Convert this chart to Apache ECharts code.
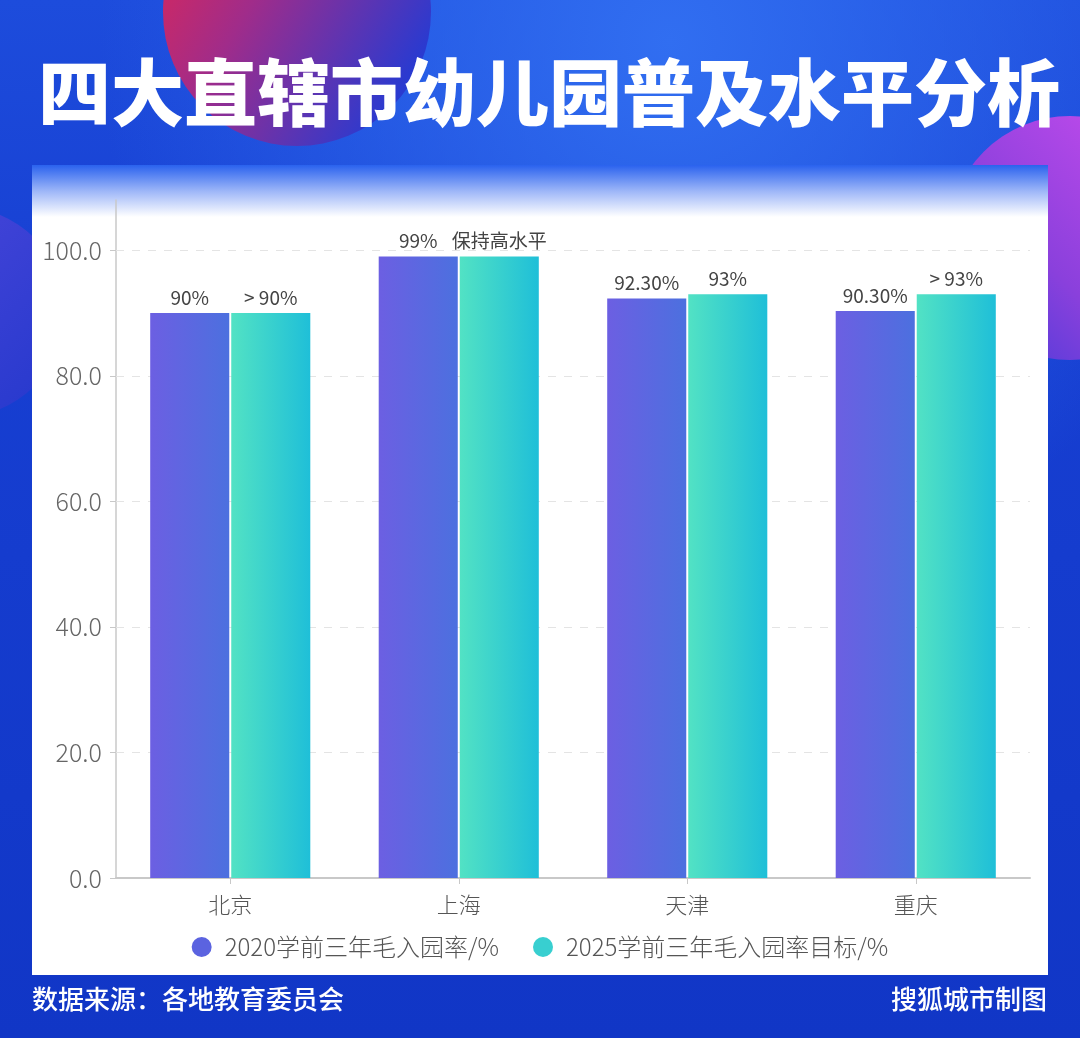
<!DOCTYPE html>
<html><head><meta charset="utf-8">
<script src="https://cdn.jsdelivr.net/npm/echarts@6/dist/echarts.min.js"></script>
<style>html,body{margin:0;padding:0;}#c{width:1080px;height:1038px;}</style>
</head><body><div id="c"></div>
<script>
const title = '四大直辖市幼儿园普及水平分析';
const categories = ['北京', '上海', '天津', '重庆'];
const seriesNames = ['2020学前三年毛入园率/%', '2025学前三年毛入园率目标/%'];
const values2020 = [90, 99, 92.3, 90.3];
const values2025 = [90, 99, 93, 93];
const labels2020 = ['90%', '99%', '92.30%', '90.30%'];
const labels2025 = ['> 90%', '保持高水平', '93%', '> 93%'];
const yTicks = [0, 20, 40, 60, 80, 100];
const sourceText = '数据来源：各地教育委员会';
const creditText = '搜狐城市制图';

const chart = echarts.init(document.getElementById('c'), null, {renderer: 'canvas'});
const lg = (c0, c1) => new echarts.graphic.LinearGradient(0, 0, 1, 0, [{offset: 0, color: c0}, {offset: 1, color: c1}]);
const purple = lg('#6c5fe2', '#4c70df');
const teal = lg('#52e2c4', '#1fbfd8');
const FONT = '"Noto Sans CJK SC", "Noto Sans", sans-serif';

const option = {
  backgroundColor: new echarts.graphic.LinearGradient(0, 0, 0, 1, [
    {offset: 0, color: '#1d4cdc'}, {offset: 0.3, color: '#173fd2'}, {offset: 1, color: '#1136c6'}
  ]),
  textStyle: {fontFamily: FONT},
  graphic: [
    {type: 'rect', z: -20, shape: {x: 0, y: 0, width: 1080, height: 1038}, style: {fill: new echarts.graphic.RadialGradient(0.62, 0.04, 0.55, [{offset: 0, color: 'rgba(50,112,242,0.95)'}, {offset: 1, color: 'rgba(50,112,242,0)'}])}},
    {type: 'circle', z: -15, shape: {cx: 297, cy: 12, r: 134}, style: {fill: new echarts.graphic.LinearGradient(0, 0, 1, 0.6, [{offset: 0, color: '#e8264e'}, {offset: 0.45, color: '#a02c8a'}, {offset: 1, color: '#2a3ad0'}])}},
    {type: 'circle', z: -15, shape: {cx: 1070, cy: 238, r: 122}, style: {fill: new echarts.graphic.LinearGradient(1, 0, 0, 1, [{offset: 0, color: '#d04ef0'}, {offset: 0.6, color: '#8a40dc'}, {offset: 1, color: '#3a3ad8'}])}},
    {type: 'circle', z: -15, shape: {cx: -40, cy: 312, r: 105}, style: {fill: new echarts.graphic.LinearGradient(0, 0, 1, 1, [{offset: 0, color: '#4e48dc'}, {offset: 1, color: '#2438cc'}])}},
    {type: 'rect', z: -10, shape: {x: 32, y: 165, width: 1016, height: 810}, style: {fill: '#ffffff'}},
    {type: 'rect', z: -9, shape: {x: 32, y: 165, width: 1016, height: 52}, style: {fill: new echarts.graphic.LinearGradient(0, 0, 0, 1, [{offset: 0, color: '#2a62ee'}, {offset: 0.5, color: '#9db6f8'}, {offset: 1, color: '#ffffff'}])}},
    {type: 'text', z: 50, left: 38, top: 56, style: {text: title, fill: '#ffffff', font: '900 73px "Noto Sans CJK SC"', shadowColor: '#16269a', shadowOffsetX: 4, shadowOffsetY: 5, shadowBlur: 0}},
    {type: 'text', z: 50, left: 32, top: 986, style: {text: sourceText, fill: '#ffffff', font: '500 26px "Noto Sans CJK SC"'}},
    {type: 'text', z: 50, right: 33, top: 986, style: {text: creditText, fill: '#ffffff', font: '500 26px "Noto Sans CJK SC"'}}
  ],
  grid: {left: 116, right: 50, top: 200, bottom: 160, containLabel: false},
  legend: {
    top: 930, left: 'center', itemWidth: 20, itemHeight: 20, itemGap: 34, icon: 'circle',
    textStyle: {fontSize: 24, color: '#555', fontFamily: FONT, fontWeight: 300, padding: [0, 0, 0, 8]},
    data: [{name: seriesNames[0], itemStyle: {color: '#5b63e0'}}, {name: seriesNames[1], itemStyle: {color: '#38cfd0'}}]
  },
  xAxis: {
    type: 'category', data: categories,
    axisLine: {lineStyle: {color: '#c8c8c8', width: 2}},
    axisTick: {show: true, alignWithLabel: true, length: 6, lineStyle: {color: '#c8c8c8'}},
    axisLabel: {fontSize: 22, color: '#555', margin: 16, fontWeight: 300}
  },
  yAxis: {
    type: 'value', min: 0, max: 108, interval: 20,
    axisLine: {show: true, lineStyle: {color: '#c8c8c8', width: 1.5}},
    axisTick: {show: true, length: 6, lineStyle: {color: '#c8c8c8'}, customValues: yTicks},
    axisLabel: {fontSize: 25, color: '#666', margin: 14, fontWeight: 300, customValues: yTicks, formatter: v => v.toFixed(1)},
    splitLine: {show: false}
  },
  series: [
    {
      name: 'grid-lines', type: 'line', data: [], z: 1, silent: true,
      markLine: {
        z: 1, silent: true, symbol: 'none', label: {show: false}, animation: false,
        lineStyle: {type: [8, 8], color: '#e4e4e4', width: 1},
        data: yTicks.filter(v => v > 0).map(v => ({yAxis: v}))
      }
    },
    {
      name: seriesNames[0], type: 'bar', data: values2020, barWidth: '34.6%', barGap: '2.5%',
      itemStyle: {color: purple},
      label: {show: true, position: 'top', distance: 6, fontSize: 19, color: '#444', formatter: p => labels2020[p.dataIndex]}, z: 3
    },
    {
      name: seriesNames[1], type: 'bar', data: values2025, barWidth: '34.6%',
      itemStyle: {color: teal},
      label: {show: true, position: 'top', distance: 6, fontSize: 19, color: '#444', formatter: p => labels2025[p.dataIndex]}, z: 3
    }
  ]
};
chart.setOption(option);
</script></body></html>
